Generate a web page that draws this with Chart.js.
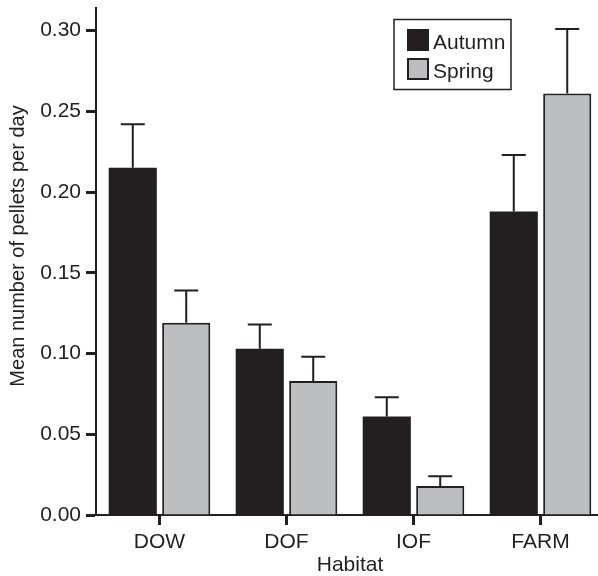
<!DOCTYPE html>
<html>
<head>
<meta charset="utf-8">
<script src="https://cdn.jsdelivr.net/npm/chart.js@4.4.0/dist/chart.umd.min.js"></script>
<style>
    body { margin: 0; background: #fff; }
    #wrap { width: 598px; height: 576px; overflow: hidden; }
    canvas { display: block; }
</style>
</head>
<body>
<div id="wrap"><canvas id="chartPellets" width="604" height="576"></canvas></div>
<script>
const habitats = ['DOW', 'DOF', 'IOF', 'FARM'];
const autumnMean = [0.215, 0.103, 0.061, 0.188];
const springMean = [0.119, 0.083, 0.018, 0.261];
const autumnErr = [0.027, 0.015, 0.012, 0.035];
const springErr = [0.020, 0.015, 0.006, 0.040];
const yTicks = [0, 0.05, 0.10, 0.15, 0.20, 0.25, 0.30];

const ink = '#231f20';
const grey = '#bcbec0';

(function() {
    Chart.defaults.font.family = '"Liberation Sans", Arial, sans-serif';
    Chart.defaults.color = ink;

    // upper error bars, drawn from the top of each bar
    const errorBars = {
        id: 'errorBars',
        afterDatasetsDraw(chart) {
            const ctx = chart.ctx;
            const yScale = chart.scales.y;
            chart.data.datasets.forEach(function(ds, i) {
                chart.getDatasetMeta(i).data.forEach(function(bar, j) {
                    const top = yScale.getPixelForValue(ds.data[j] + ds.errors[j]);
                    ctx.save();
                    ctx.strokeStyle = ink;
                    ctx.lineWidth = 2;
                    ctx.beginPath();
                    ctx.moveTo(bar.x, bar.y);
                    ctx.lineTo(bar.x, top);
                    ctx.moveTo(bar.x - 12, top);
                    ctx.lineTo(bar.x + 12, top);
                    ctx.stroke();
                    ctx.restore();
                });
            });
        }
    };

    // boxed legend in the top right + rotated y title
    const extras = {
        id: 'extras',
        afterDraw(chart) {
            const ctx = chart.ctx;
            ctx.save();
            ctx.strokeStyle = ink;
            ctx.lineWidth = 1.5;
            ctx.strokeRect(394, 19.5, 117, 70);

            ctx.font = '21px "Liberation Sans", Arial, sans-serif';
            ctx.textBaseline = 'alphabetic';
            ctx.textAlign = 'left';
            chart.data.datasets.forEach(function(ds, i) {
                const top = 29 + i * 29;
                ctx.fillStyle = ds.backgroundColor;
                ctx.fillRect(407, top, 22, 22);
                if (ds.borderWidth) {
                    ctx.lineWidth = 2;
                    ctx.strokeRect(408, top + 1, 20, 20);
                }
                ctx.fillStyle = ink;
                ctx.fillText(ds.label, 433, top + 20);
            });

            ctx.translate(24, 246);
            ctx.rotate(-Math.PI / 2);
            ctx.font = '20px "Liberation Sans", Arial, sans-serif';
            ctx.textAlign = 'center';
            ctx.fillText('Mean number of pellets per day', 0, 0);
            ctx.restore();
        }
    };

    new Chart(document.getElementById('chartPellets'), {
        type: 'bar',
        data: {
            labels: habitats,
            datasets: [
                {
                    label: 'Autumn',
                    data: autumnMean,
                    errors: autumnErr,
                    backgroundColor: ink,
                    borderWidth: 0
                },
                {
                    label: 'Spring',
                    data: springMean,
                    errors: springErr,
                    backgroundColor: grey,
                    borderColor: ink,
                    borderWidth: 2
                }
            ]
        },
        options: {
            responsive: false,
            animation: false,
            barPercentage: 0.9,
            categoryPercentage: 0.842,
            layout: { padding: { left: 40, top: 8, right: 0, bottom: 0 } },
            plugins: {
                legend: { display: false },
                tooltip: { enabled: false }
            },
            scales: {
                x: {
                    offset: true,
                    afterFit: function(s) { s.height = 61; },
                    grid: { offset: false, drawOnChartArea: false, tickLength: 10, tickWidth: 3, tickColor: ink },
                    border: { color: ink, width: 2 },
                    ticks: { padding: 5, font: { size: 21 }, color: ink },
                    title: {
                        display: true,
                        text: 'Habitat',
                        color: ink,
                        font: { size: 21, lineHeight: 1 },
                        padding: { top: 0, bottom: 0 }
                    }
                },
                y: {
                    min: 0,
                    max: 0.314,
                    afterBuildTicks: function(s) { s.ticks = yTicks.map(function(v) { return { value: v }; }); },
                    afterFit: function(s) { s.width = 56; s.paddingTop = 0; s.paddingBottom = 0; },
                    grid: { drawOnChartArea: false, tickLength: 10, tickWidth: 3, tickColor: ink },
                    border: { color: ink, width: 2 },
                    ticks: {
                        padding: 5,
                        font: { size: 21 },
                        color: ink,
                        callback: function(v) { return Number(v).toFixed(2); }
                    }
                }
            }
        },
        plugins: [errorBars, extras]
    });
})();
</script>
</body>
</html>
